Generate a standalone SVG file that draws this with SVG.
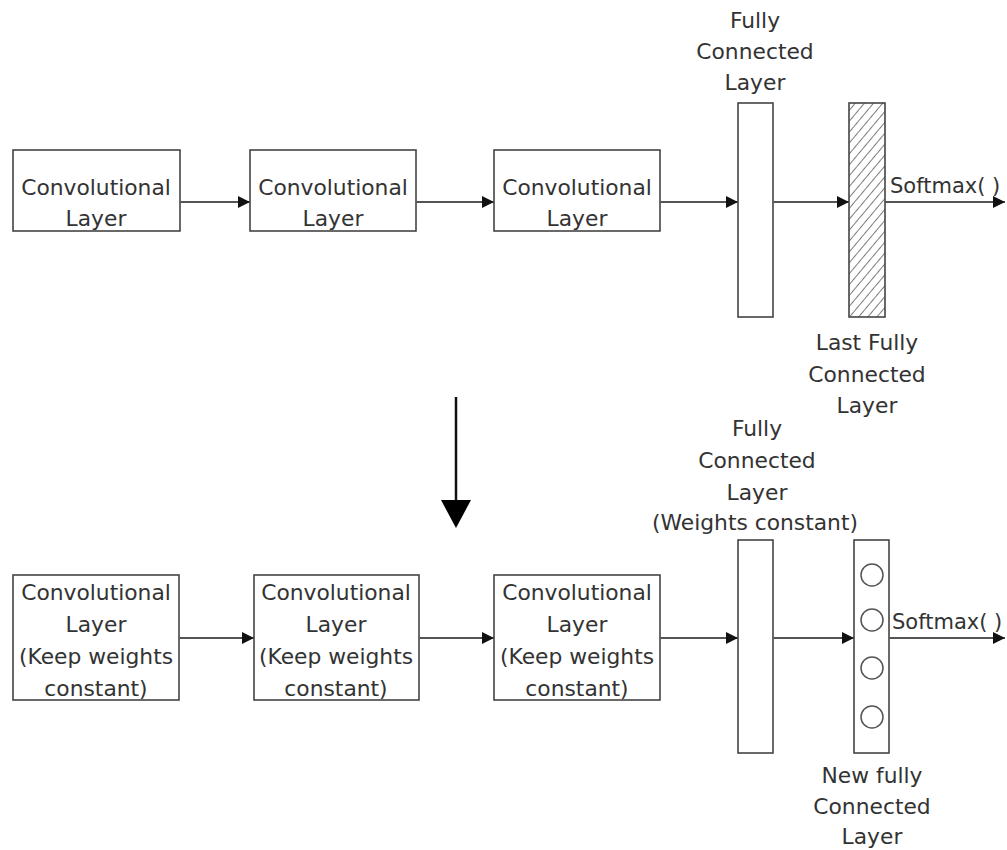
<svg xmlns="http://www.w3.org/2000/svg" width="1007" height="850" viewBox="0 0 1007 850">
  <style>
    .box { fill: #ffffff; stroke: #444; stroke-width: 1.6; }
    .lbl { font-family: "DejaVu Sans", "Liberation Sans", sans-serif; font-size: 21.8px; fill: #333; text-anchor: middle; }
    .lbl-l { font-family: "DejaVu Sans", "Liberation Sans", sans-serif; font-size: 21px; fill: #333; }
    .edge { stroke: #555; stroke-width: 2; fill: none; marker-end: url(#arrow); }
    .neuron { fill: none; stroke: #555; stroke-width: 1.5; }
  </style>
  <defs>
    <marker id="arrow" viewBox="0 0 12 12" refX="12" refY="6" markerWidth="12" markerHeight="12" markerUnits="userSpaceOnUse" orient="auto">
      <path d="M0,0 L12,6 L0,12 Z" fill="#111"/>
    </marker>
    <pattern id="hatch" width="7" height="7" patternUnits="userSpaceOnUse" patternTransform="rotate(40)">
      <line x1="0" y1="0" x2="0" y2="7" stroke="#444" stroke-width="1.4"/>
    </pattern>
  </defs>
  <rect width="1007" height="850" fill="#ffffff"/>

  <!-- Original network -->
  <g id="conv1">
    <rect class="box" x="13" y="150" width="167" height="81"/>
    <text class="lbl" x="96" y="195">Convolutional</text>
    <text class="lbl" x="96" y="226">Layer</text>
  </g>
  <g id="conv2">
    <rect class="box" x="250" y="150" width="166" height="81"/>
    <text class="lbl" x="333" y="195">Convolutional</text>
    <text class="lbl" x="333" y="226">Layer</text>
  </g>
  <g id="conv3">
    <rect class="box" x="494" y="150" width="166" height="81"/>
    <text class="lbl" x="577" y="195">Convolutional</text>
    <text class="lbl" x="577" y="226">Layer</text>
  </g>
  <g id="fc">
    <rect class="box" x="738" y="103" width="35" height="214"/>
    <text class="lbl" x="755" y="28">Fully</text>
    <text class="lbl" x="755" y="59">Connected</text>
    <text class="lbl" x="755" y="90">Layer</text>
  </g>
  <g id="fc-last">
    <rect x="849" y="103" width="36" height="214" fill="url(#hatch)" stroke="#444" stroke-width="1.6"/>
    <text class="lbl" x="867" y="350">Last Fully</text>
    <text class="lbl" x="867" y="382">Connected</text>
    <text class="lbl" x="867" y="413">Layer</text>
  </g>
  <text class="lbl-l" x="890" y="193">Softmax( )</text>

  <!-- Retrained network -->
  <g id="conv1-frozen">
    <rect class="box" x="13" y="575" width="166" height="125"/>
    <text class="lbl" x="96" y="600">Convolutional</text>
    <text class="lbl" x="96" y="632">Layer</text>
    <text class="lbl" x="96" y="664">(Keep weights</text>
    <text class="lbl" x="96" y="696">constant)</text>
  </g>
  <g id="conv2-frozen">
    <rect class="box" x="254" y="575" width="165" height="125"/>
    <text class="lbl" x="336" y="600">Convolutional</text>
    <text class="lbl" x="336" y="632">Layer</text>
    <text class="lbl" x="336" y="664">(Keep weights</text>
    <text class="lbl" x="336" y="696">constant)</text>
  </g>
  <g id="conv3-frozen">
    <rect class="box" x="494" y="575" width="166" height="125"/>
    <text class="lbl" x="577" y="600">Convolutional</text>
    <text class="lbl" x="577" y="632">Layer</text>
    <text class="lbl" x="577" y="664">(Keep weights</text>
    <text class="lbl" x="577" y="696">constant)</text>
  </g>
  <g id="fc-frozen">
    <rect class="box" x="738" y="540" width="35" height="213"/>
    <text class="lbl" x="757" y="436">Fully</text>
    <text class="lbl" x="757" y="468">Connected</text>
    <text class="lbl" x="757" y="500">Layer</text>
    <text class="lbl" x="755" y="530">(Weights constant)</text>
  </g>
  <g id="fc-new">
    <rect class="box" x="854" y="540" width="35" height="213"/>
    <circle class="neuron" cx="872" cy="575" r="11"/>
    <circle class="neuron" cx="872" cy="620" r="11"/>
    <circle class="neuron" cx="872" cy="668" r="11"/>
    <circle class="neuron" cx="872" cy="717" r="11"/>
    <text class="lbl" x="872" y="783">New fully</text>
    <text class="lbl" x="872" y="814">Connected</text>
    <text class="lbl" x="872" y="844">Layer</text>
  </g>
  <text class="lbl-l" x="892" y="629">Softmax( )</text>

  <g id="connectors">
    <line class="edge" x1="180" y1="202" x2="250" y2="202"/>
    <line class="edge" x1="416" y1="202" x2="494" y2="202"/>
    <line class="edge" x1="660" y1="202" x2="738" y2="202"/>
    <line class="edge" x1="773" y1="202" x2="849" y2="202"/>
    <line class="edge" x1="885" y1="202" x2="1005" y2="202"/>

    <line class="edge" x1="179" y1="638" x2="254" y2="638"/>
    <line class="edge" x1="419" y1="638" x2="494" y2="638"/>
    <line class="edge" x1="660" y1="638" x2="738" y2="638"/>
    <line class="edge" x1="773" y1="638" x2="854" y2="638"/>
    <line class="edge" x1="889" y1="638" x2="1005" y2="638"/>

    <line x1="456" y1="397" x2="456" y2="502" stroke="#111" stroke-width="2.5"/>
    <path d="M441,500 L471,500 L456,528 Z" fill="#000"/>
  </g>
</svg>
